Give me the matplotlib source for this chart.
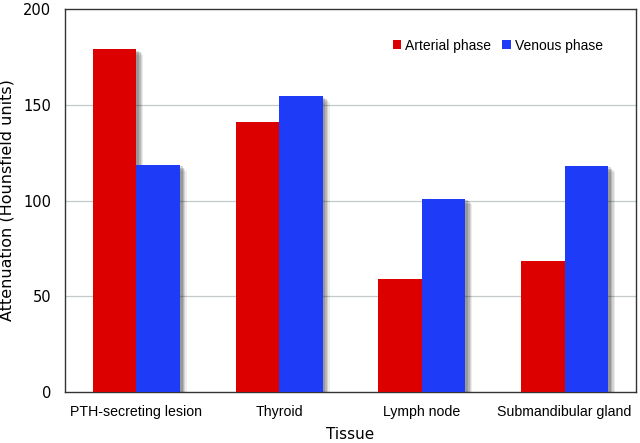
import numpy as np
import matplotlib
matplotlib.use("Agg")
import matplotlib.pyplot as plt
import matplotlib.patheffects as pe

# === Data ===
tissues = ["PTH-secreting lesion", "Thyroid", "Lymph node", "Submandibular gland"]
arterial = [179, 141, 59, 68.5]
venous = [118.5, 154.5, 101, 118]
y_ticks = [0, 50, 100, 150, 200]

red = "#dc0000"
blue = "#1e3cf8"

fig = plt.figure(figsize=(6.4, 4.43), dpi=100)
ax = fig.add_axes([0.1016, 0.1151, 0.8921, 0.8646])

x = np.arange(len(tissues))
w = 0.305

# soft drop shadow, built from a few offset translucent copies
shadow = [
    pe.SimplePatchShadow(offset=(5, -4), shadow_rgbFace="#000000", alpha=0.07),
    pe.SimplePatchShadow(offset=(4, -3), shadow_rgbFace="#000000", alpha=0.10),
    pe.SimplePatchShadow(offset=(3, -2), shadow_rgbFace="#000000", alpha=0.14),
    pe.SimplePatchShadow(offset=(2, -1), shadow_rgbFace="#000000", alpha=0.16),
    pe.Normal(),
]

b1 = ax.bar(x - w / 2, arterial, w, color=red, label="Arterial phase", zorder=3)
b2 = ax.bar(x + w / 2, venous, w, color=blue, label="Venous phase", zorder=3)
for r in list(b1) + list(b2):
    r.set_path_effects(shadow)

# === Styling ===
ax.set_xlim(-0.5, len(tissues) - 0.5)
ax.set_ylim(0, 200)
ax.set_yticks(y_ticks)
ax.set_yticklabels([str(t) for t in y_ticks], fontsize=10.5, family="DejaVu Sans")
ax.set_xticks(x)
ax.set_xticklabels(tissues, fontsize=10.2, family="Liberation Sans")
ax.tick_params(length=0, pad=9)
ax.tick_params(axis="y", pad=10)

for t in [50, 100, 150]:
    ax.axhline(t, color="#c4caca", linewidth=0.9, zorder=1)

for s in ax.spines.values():
    s.set_color("#333333")
    s.set_linewidth(1.0)

ax.set_xlabel("Tissue", fontsize=11, family="DejaVu Sans")
ax.xaxis.set_label_coords(0.5, -0.092)
ax.set_ylabel("Attenuation (Hounsfield units)", fontsize=11.5, family="DejaVu Sans")
ax.yaxis.set_label_coords(-0.088, 0.5)

leg = ax.legend(loc="upper right", bbox_to_anchor=(0.964, 0.955), ncol=2, frameon=False,
                handlelength=0.6, handleheight=0.6, handletextpad=0.3,
                columnspacing=0.8, prop={"family": "Liberation Sans", "size": 10})
for h in leg.legend_handles:
    h.set_path_effects([])

fig.savefig("out.png", dpi=100)
